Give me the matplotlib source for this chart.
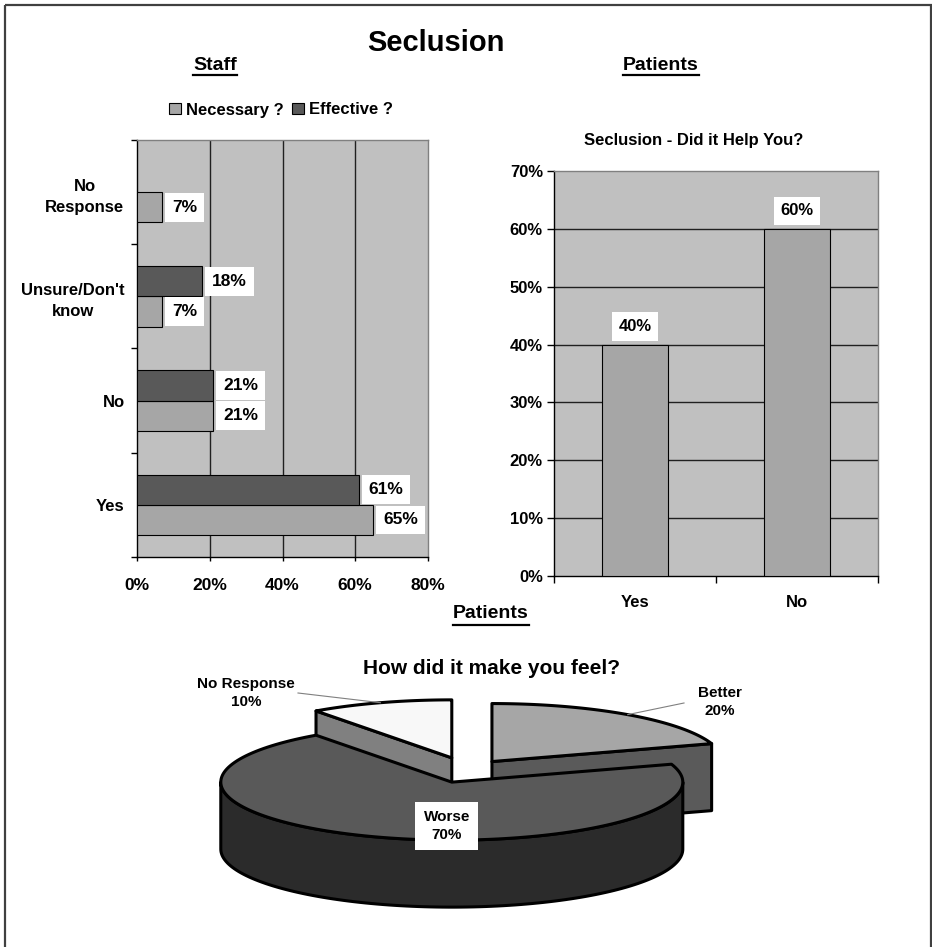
import numpy as np
import matplotlib
matplotlib.use('Agg')
import matplotlib.pyplot as plt
from matplotlib.patches import Polygon, Rectangle, Patch
from matplotlib.lines import Line2D

# ── data ───────────────────────────────────────────────────────────
staff_cats = ['Yes', 'No', "Unsure/Don't\nknow", 'No\nResponse']
staff_necessary = [65, 21, 7, 7]
staff_effective = [61, 21, 18, None]   # no bar for "No Response"

help_cats = ['Yes', 'No']
help_vals = [40, 60]

feel_labels = ['Better', 'Worse', 'No Response']
feel_vals = [20, 70, 10]

# ── style ──────────────────────────────────────────────────────────
BG = '#c0c0c0'
LIGHT = '#a6a6a6'
DARK = '#595959'
GRID_EDGE = '#808080'
PIE_TOP = ['#a6a6a6', '#595959', '#f8f8f8']
PIE_SIDE = ['#5a5a5a', '#2b2b2b', '#808080']

plt.rcParams.update({
    'font.family': ['Liberation Sans', 'DejaVu Sans'],
    'font.weight': 'bold',
    'font.size': 12,
    'axes.linewidth': 1.0,
})

W, H = 932, 947
fig = plt.figure(figsize=(W / 100, H / 100), dpi=100)
fig.patch.set_facecolor('white')


def rect(x0, y0, x1, y1):
    # pixel box (top-left origin) -> figure fraction
    return [x0 / W, 1 - y1 / H, (x1 - x0) / W, (y1 - y0) / H]


def fpos(x, y):
    return x / W, 1 - y / H


def style_spines(ax):
    ax.set_facecolor(BG)
    ax.spines['left'].set_color('black')
    ax.spines['bottom'].set_color('black')
    ax.spines['top'].set_color(GRID_EDGE)
    ax.spines['right'].set_color(GRID_EDGE)


label_box = dict(boxstyle='square,pad=0.4', fc='white', ec='none')

# ── left: staff horizontal bars ────────────────────────────────────
ax1 = fig.add_axes(rect(137, 140, 428, 557))
style_spines(ax1)
y = np.arange(len(staff_cats))
h = 0.29
for v in [20, 40, 60]:
    ax1.axvline(v, color='#202020', lw=1.0, zorder=1)

ax1.barh(y - h / 2, staff_necessary, h, color=LIGHT, edgecolor='black',
         lw=0.8, zorder=3)
eff_y = [yy + h / 2 for yy, v in zip(y, staff_effective) if v is not None]
eff_v = [v for v in staff_effective if v is not None]
ax1.barh(eff_y, eff_v, h, color=DARK, edgecolor='black', lw=0.8, zorder=3)

for yy, v in zip(y, staff_necessary):
    ax1.annotate(f'{v}%', xy=(v, yy - h / 2), xytext=(7, 0),
                 textcoords='offset points', va='center', ha='left',
                 fontsize=12.5, bbox=label_box, zorder=5)
for yy, v in zip(eff_y, eff_v):
    ax1.annotate(f'{v}%', xy=(v, yy), xytext=(7, 0),
                 textcoords='offset points', va='center', ha='left',
                 fontsize=12.5, bbox=label_box, zorder=5)

ax1.set_xlim(0, 80)
ax1.set_ylim(-0.5, len(staff_cats) - 0.5)
ax1.set_xticks([0, 20, 40, 60, 80])
ax1.set_xticklabels([f'{t}%' for t in [0, 20, 40, 60, 80]], fontsize=12.5)
ax1.set_yticks(y)
ax1.set_yticklabels(staff_cats, fontsize=12, multialignment='center',
                    linespacing=1.55)
ax1.set_yticks(np.arange(len(staff_cats) + 1) - 0.5, minor=True)
ax1.tick_params(axis='y', which='major', length=0, pad=9)
ax1.tick_params(axis='y', which='minor', length=4, width=1)
ax1.tick_params(axis='x', which='major', length=3, width=1, pad=12)

handles = [Patch(facecolor=LIGHT, edgecolor='black', lw=0.8, label='Necessary ?'),
           Patch(facecolor=DARK, edgecolor='black', lw=0.8, label='Effective ?')]
fig.legend(handles=handles, loc='center', bbox_to_anchor=fpos(281, 110),
           ncol=2, frameon=False, fontsize=12, handlelength=0.7,
           handleheight=0.7, handletextpad=0.3, columnspacing=0.5)

# ── right: patients vertical bars ──────────────────────────────────
ax2 = fig.add_axes(rect(554, 171, 878, 576))
style_spines(ax2)
for v in [10, 20, 30, 40, 50, 60]:
    ax2.axhline(v, color='#202020', lw=1.0, zorder=1)
x = np.arange(len(help_cats))
ax2.bar(x, help_vals, 0.41, color=LIGHT, edgecolor='black', lw=0.8, zorder=3)
for xx, v in zip(x, help_vals):
    ax2.annotate(f'{v}%', xy=(xx, v), xytext=(0, 13),
                 textcoords='offset points', va='center', ha='center',
                 fontsize=12, bbox=label_box, zorder=5)
ax2.set_xlim(-0.5, len(help_cats) - 0.5)
ax2.set_ylim(0, 70)
ax2.set_yticks(range(0, 71, 10))
ax2.set_yticklabels([f'{t}%' for t in range(0, 71, 10)], fontsize=12)
ax2.set_xticks(x)
ax2.set_xticklabels(help_cats, fontsize=12)
ax2.set_xticks(np.arange(len(help_cats) + 1) - 0.5, minor=True)
ax2.tick_params(axis='x', which='major', length=0, pad=14)
ax2.tick_params(axis='x', which='minor', length=5, width=1)
ax2.tick_params(axis='y', which='major', length=5, width=1, pad=3)
fig.text(*fpos(694, 141), 'Seclusion - Did it Help You?', ha='center',
         va='center', fontsize=12)

# ── bottom: 3D exploded pie (drawn in pixel coords) ────────────────
axp = fig.add_axes([0, 0, 1, 1])
axp.set_xlim(0, W)
axp.set_ylim(H, 0)
axp.axis('off')
axp.patch.set_alpha(0)

CX, CY = 467.5, 770.0      # pie centre before explosion
A, B, D = 231.0, 58.0, 67.0  # ellipse semi-axes and depth
explode = [0.18, 0.22, 0.22]


def rim(vx, vy, t, dz=0.0):
    t = np.radians(t)
    return np.column_stack([vx + A * np.sin(t), vy - B * np.cos(t) + dz])


total = float(sum(feel_vals))
slices = []
start = 0.0
for i, v in enumerate(feel_vals):
    end = start + 360.0 * v / total
    mid = np.radians((start + end) / 2)
    vx = CX + explode[i] * A * np.sin(mid)
    vy = CY - explode[i] * B * np.cos(mid)
    slices.append((i, start, end, vx, vy))
    start = end

EDGE_KW = dict(edgecolor='black', lw=2.2, joinstyle='round')
for i, s, e, vx, vy in sorted(slices, key=lambda q: q[4]):
    # cut faces facing the viewer
    for ang, nrm in [(s, s - 90), (e, e + 90)]:
        if np.cos(np.radians(nrm)) < -1e-6:
            p = rim(vx, vy, [ang])[0]
            quad = [(vx, vy), tuple(p), (p[0], p[1] + D), (vx, vy + D)]
            axp.add_patch(Polygon(quad, closed=True, facecolor=PIE_SIDE[i], **EDGE_KW))
    # outer curved side (front half only)
    lo, hi = max(s, 90), min(e, 270)
    if hi > lo:
        t = np.linspace(lo, hi, 120)
        top = rim(vx, vy, t)
        bot = rim(vx, vy, t[::-1], D)
        axp.add_patch(Polygon(np.vstack([top, bot]), closed=True,
                              facecolor=PIE_SIDE[i], **EDGE_KW))
    # top face
    t = np.linspace(s, e, 150)
    poly = np.vstack([[vx, vy], rim(vx, vy, t)])
    axp.add_patch(Polygon(poly, closed=True, facecolor=PIE_TOP[i], **EDGE_KW))

# pie labels
pos = {0: (720, 702), 2: (246, 693)}
anchor = {0: (684, 703), 2: (298, 693)}
for i, s, e, vx, vy in slices:
    txt = f'{feel_labels[i]}\n{feel_vals[i]}%'
    if i in pos:
        p = rim(vx, vy, [(s + e) / 2])[0]
        a = anchor[i]
        axp.plot([a[0], p[0]], [a[1], p[1]], color='#808080', lw=0.8, zorder=6)
        axp.text(*pos[i], txt, ha='center', va='center', fontsize=11,
                 linespacing=1.3, zorder=7)
    else:
        axp.text(vx - 5, vy + 44, txt, ha='center', va='center', fontsize=11,
                 linespacing=1.3, zorder=7,
                 bbox=dict(boxstyle='square,pad=0.55', fc='white', ec='none'))

axp.text(492, 668, 'How did it make you feel?', ha='center', va='center',
         fontsize=15)

# page border
axp.add_patch(Rectangle((5, 5), 926, 970, fill=False, ec='#404040', lw=1.6,
                        clip_on=False))

# ── headings ───────────────────────────────────────────────────────
fig.text(*fpos(436, 43), 'Seclusion', ha='center', va='center', fontsize=21)
heads = [fig.text(*fpos(215, 65), 'Staff', ha='center', va='center', fontsize=14),
         fig.text(*fpos(661, 65), 'Patients', ha='center', va='center', fontsize=14),
         fig.text(*fpos(491, 614), 'Patients', ha='center', va='center', fontsize=14)]

fig.canvas.draw()
inv = fig.transFigure.inverted()
for t in heads:
    bb = t.get_window_extent()
    (x0, y0), (x1, _) = inv.transform([(bb.x0, bb.y0 - 2), (bb.x1, bb.y0)])
    fig.add_artist(Line2D([x0, x1], [y0, y0], color='black', lw=1.6,
                          transform=fig.transFigure))

fig.savefig('out.png', dpi=100)
